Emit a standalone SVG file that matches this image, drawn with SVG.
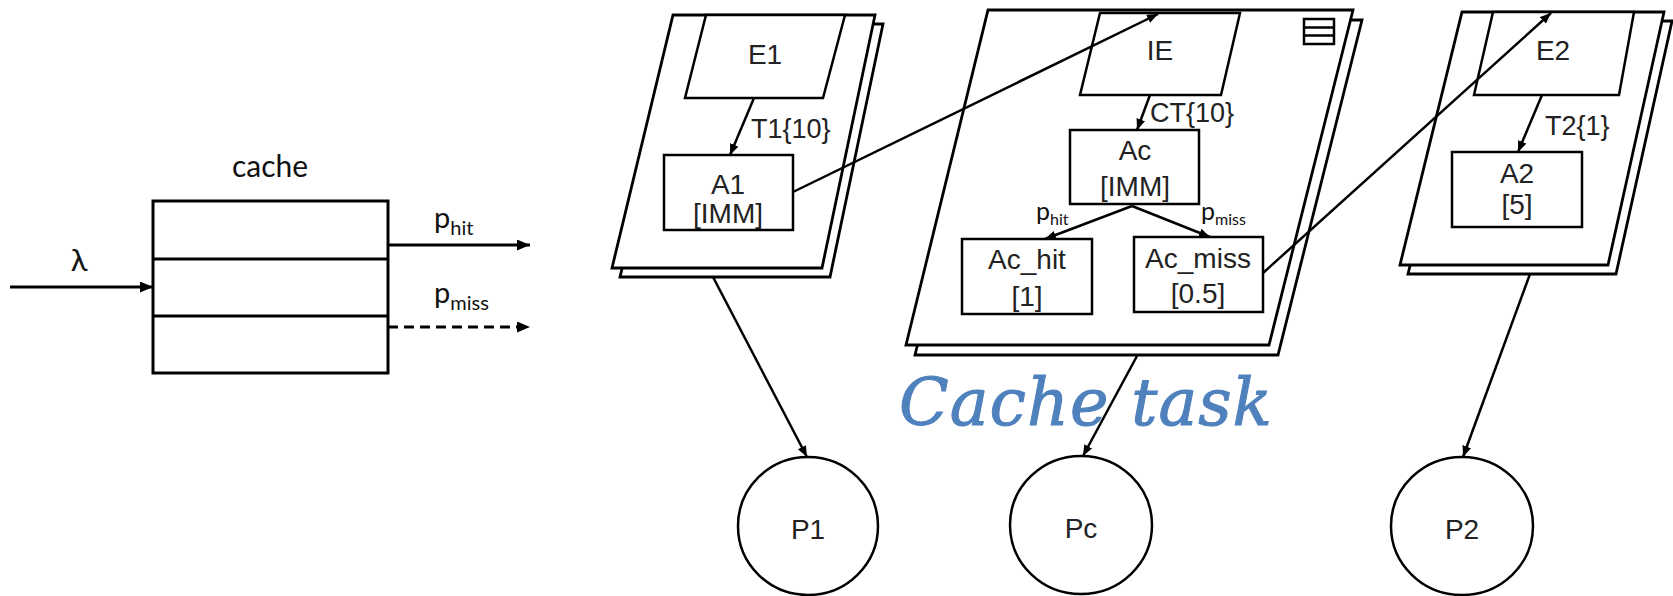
<svg xmlns="http://www.w3.org/2000/svg" width="1673" height="596" viewBox="0 0 1673 596">
<style>
.ln{fill:none;stroke:#000;stroke-width:2.5}
.sh{fill:#fff;stroke:#000;stroke-width:2.8;stroke-linejoin:miter}
.bx{fill:#fff;stroke:#000;stroke-width:2.5}
.t{font-family:"Liberation Sans",Arial,sans-serif;font-size:28px;fill:#222;text-anchor:middle}
.el{font-family:"Liberation Sans",Arial,sans-serif;font-size:27px;fill:#222}
.c{font-family:Lato,"Open Sans",sans-serif;fill:#111}
.ar{fill:none;stroke:#000;stroke-width:2.5;marker-end:url(#ah)}
.ar2{fill:none;stroke:#000;stroke-width:3;marker-end:url(#ah2)}
</style>
<defs>
<marker id="ah" markerUnits="userSpaceOnUse" markerWidth="12" markerHeight="10" refX="11" refY="4.5" orient="auto"><path d="M0,0 L11,4.5 L0,9 z" fill="#000"/></marker>
<marker id="ah2" markerUnits="userSpaceOnUse" markerWidth="14" markerHeight="12" refX="13" refY="5.5" orient="auto"><path d="M0,0 L13,5.5 L0,11 z" fill="#000"/></marker>
</defs>
<rect width="1673" height="596" fill="#fff"/>

<g id="cache">
<rect x="153" y="201" width="235" height="172" fill="#fff" stroke="#000" stroke-width="3"/>
<line x1="153" y1="259" x2="388" y2="259" stroke="#000" stroke-width="3"/>
<line x1="153" y1="316" x2="388" y2="316" stroke="#000" stroke-width="3"/>
<text class="c" x="270" y="177" font-size="30" text-anchor="middle">cache</text>
</g>

<g id="task-E1">
<polygon class="sh" points="681,24 883,24 830,277 620,277"/>
<polygon class="sh" points="673,15 875,15 822,268 612,268"/>
</g>
<g id="E1"><polygon class="bx" points="706,15 845,15 823,98 685,98"/><text class="t" x="765" y="64">E1</text></g>
<g id="A1"><rect class="bx" x="664" y="155" width="129" height="75"/><text class="t" x="728" y="194">A1</text><text class="t" x="728" y="223">[IMM]</text></g>

<g id="task-IE">
<polygon class="sh" points="997,20 1362,20 1278,355 915,355"/>
<polygon class="sh" points="988,10 1353,10 1269,345 906,345"/>
<rect x="1304" y="19" width="30" height="25" fill="none" stroke="#000" stroke-width="2.5"/>
<line x1="1304" y1="27.5" x2="1334" y2="27.5" stroke="#000" stroke-width="2.5"/>
<line x1="1304" y1="35.5" x2="1334" y2="35.5" stroke="#000" stroke-width="2.5"/>
</g>
<g id="IE"><polygon class="bx" points="1100,13 1240,13 1221,95 1080,95"/><text class="t" x="1160" y="60">IE</text></g>
<g id="Ac"><rect class="bx" x="1070" y="130" width="129" height="74"/><text class="t" x="1135" y="160">Ac</text><text class="t" x="1135" y="196">[IMM]</text></g>
<g id="Ac_hit"><rect class="bx" x="962" y="239" width="130" height="75"/><text class="t" x="1027" y="269">Ac_hit</text><text class="t" x="1027" y="306">[1]</text></g>
<g id="Ac_miss"><rect class="bx" x="1134" y="237" width="129" height="75"/><text class="t" x="1198" y="268">Ac_miss</text><text class="t" x="1198" y="303">[0.5]</text></g>

<g id="task-E2">
<polygon class="sh" points="1470,21 1672,21 1616,274 1408,274"/>
<polygon class="sh" points="1462,12 1664,12 1608,265 1400,265"/>
</g>
<g id="E2"><polygon class="bx" points="1493,12 1634,12 1619,95 1474,95"/><text class="t" x="1553" y="60">E2</text></g>
<g id="A2"><rect class="bx" x="1452" y="152" width="130" height="75"/><text class="t" x="1517" y="183">A2</text><text class="t" x="1517" y="214">[5]</text></g>

<g id="P1"><ellipse class="bx" cx="808" cy="526" rx="70" ry="69"/><text class="t" x="808" y="539">P1</text></g>
<g id="Pc"><ellipse class="bx" cx="1081" cy="525" rx="71" ry="69"/><text class="t" x="1081" y="538">Pc</text></g>
<g id="P2"><ellipse class="bx" cx="1462" cy="526" rx="71" ry="69"/><text class="t" x="1462" y="539">P2</text></g>

<g id="connectors">
<line class="ar2" x1="10" y1="287" x2="153" y2="287"/>
<line class="ar2" x1="388" y1="245" x2="530" y2="245"/>
<line class="ar2" x1="388" y1="327" x2="530" y2="327" stroke-dasharray="10,6"/>
<line class="ar" x1="754" y1="98" x2="730" y2="155"/>
<line class="ar" x1="793" y1="192" x2="1158" y2="14"/>
<line class="ar" x1="1150" y1="95" x2="1137" y2="130"/>
<line class="ar" x1="1132" y1="206" x2="1045" y2="239"/>
<line class="ar" x1="1132" y1="206" x2="1210" y2="237"/>
<line class="ar" x1="1263" y1="273" x2="1551" y2="13"/>
<line class="ar" x1="1542" y1="95" x2="1518" y2="152"/>
<line class="ar" x1="713" y1="277" x2="807" y2="457"/>
<line class="ar" x1="1137" y1="356" x2="1083" y2="456"/>
<line class="ar" x1="1530" y1="274" x2="1463" y2="457"/>
</g>

<g id="labels">
<text class="c" x="79" y="271" font-size="31" text-anchor="middle">λ</text>
<text class="c" x="434" y="228" font-size="29">p<tspan font-size="20" dy="7">hit</tspan></text>
<text class="c" x="434" y="303" font-size="29">p<tspan font-size="20" dy="7">miss</tspan></text>
<text class="el" x="751" y="138">T1{10}</text>
<text class="el" x="1150" y="122">CT{10}</text>
<text class="el" x="1545" y="135">T2{1}</text>
<text class="c" x="1036" y="220" font-size="25">p<tspan font-size="16" dy="5">hit</tspan></text>
<text class="c" x="1201" y="220" font-size="25">p<tspan font-size="16" dy="5">miss</tspan></text>
<text x="899" y="425" font-family="'DejaVu Serif','Liberation Serif',serif" font-style="italic" font-size="65" fill="#4f81bd" stroke="#4f81bd" stroke-width="1" textLength="373" lengthAdjust="spacing">Cache task</text>
</g>
</svg>
